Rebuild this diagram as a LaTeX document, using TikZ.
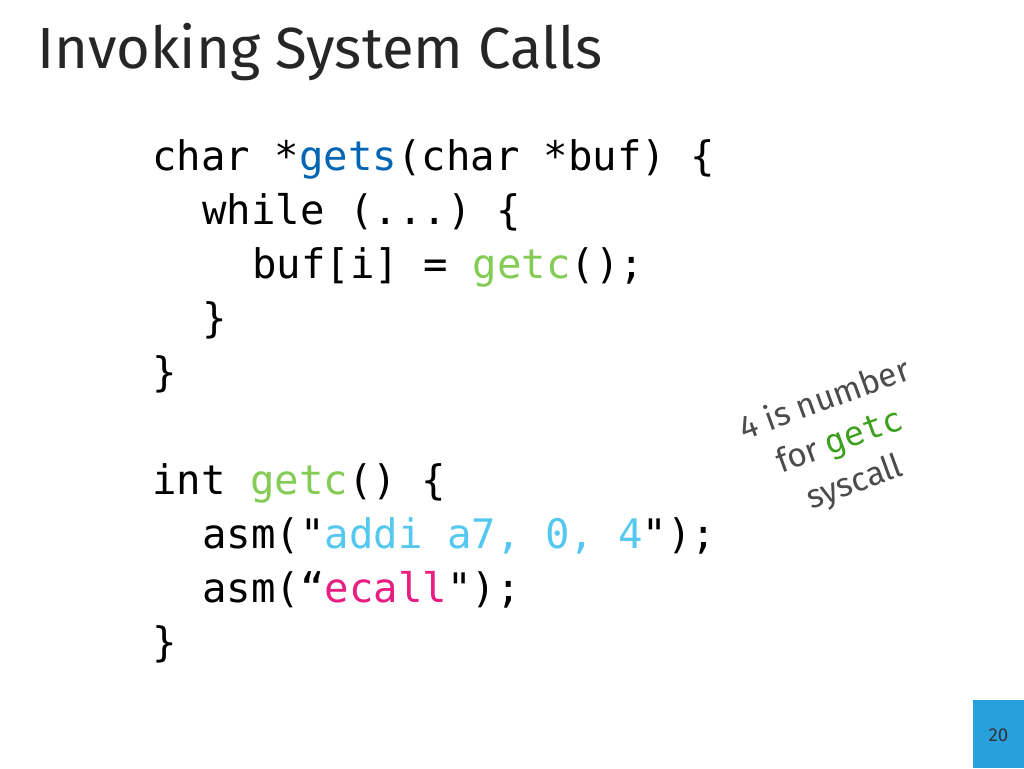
\documentclass[tikz,border=0pt]{standalone}
\usepackage{fontspec}
\setmainfont{Fira Sans}
\setsansfont{Fira Sans}
\setmonofont{DejaVu Sans Mono}
\definecolor{fnblue}{RGB}{0,102,180}
\definecolor{fngreen}{RGB}{132,204,86}
\definecolor{strcyan}{RGB}{84,200,240}
\definecolor{ecpink}{RGB}{232,30,130}
\definecolor{notegreen}{RGB}{60,160,30}
\definecolor{pagebox}{RGB}{40,160,222}
\tikzset{
  codeline/.style={anchor=base west, inner sep=0pt, font=\ttfamily\fontsize{30.5}{40}\selectfont},
  notetext/.style={align=center, rotate=20, text=black!70, font=\fontsize{25}{33}\selectfont}
}
\begin{document}
\begin{tikzpicture}[x=0.75pt,y=-0.75pt]
        \useasboundingbox[fill=white] (0,0) rectangle (1024,768);

        % title
        \node[anchor=base west, inner sep=0pt, text=black!85, font=\fontsize{43.5}{50}\selectfont] (title) at (37,68) {Invoking System Calls};

        % gets
        \node[codeline] (l1) at (152,170) {char *\textcolor{fnblue}{gets}(char *buf) \{};
        \node[codeline] (l2) at (202,224) {while (...) \{};
        \node[codeline] (l3) at (252,278) {buf[i] = \textcolor{fngreen}{getc}();};
        \node[codeline] (l4) at (202,332) {\}};
        \node[codeline] (l5) at (152,386) {\}};

        % getc
        \node[codeline] (l6) at (152,494) {int \textcolor{fngreen}{getc}() \{};
        \node[codeline] (l7) at (202,548) {asm("\textcolor{strcyan}{addi a7, 0, 4}");};
        \node[codeline] (l8) at (202,602) {asm(“\textcolor{ecpink}{ecall}");};
        \node[codeline] (l9) at (152,656) {\}};

        % note
        \node[notetext] (note) at (840,442) {4 is number\\for \textcolor{notegreen}{\ttfamily getc}\\syscall};

        % page number
        \fill[pagebox] (973,700) rectangle (1024,768);
        \node[font=\fontsize{14}{16}\selectfont, text=black!80] (page) at (998.5,735) {20};
\end{tikzpicture}
\end{document}
